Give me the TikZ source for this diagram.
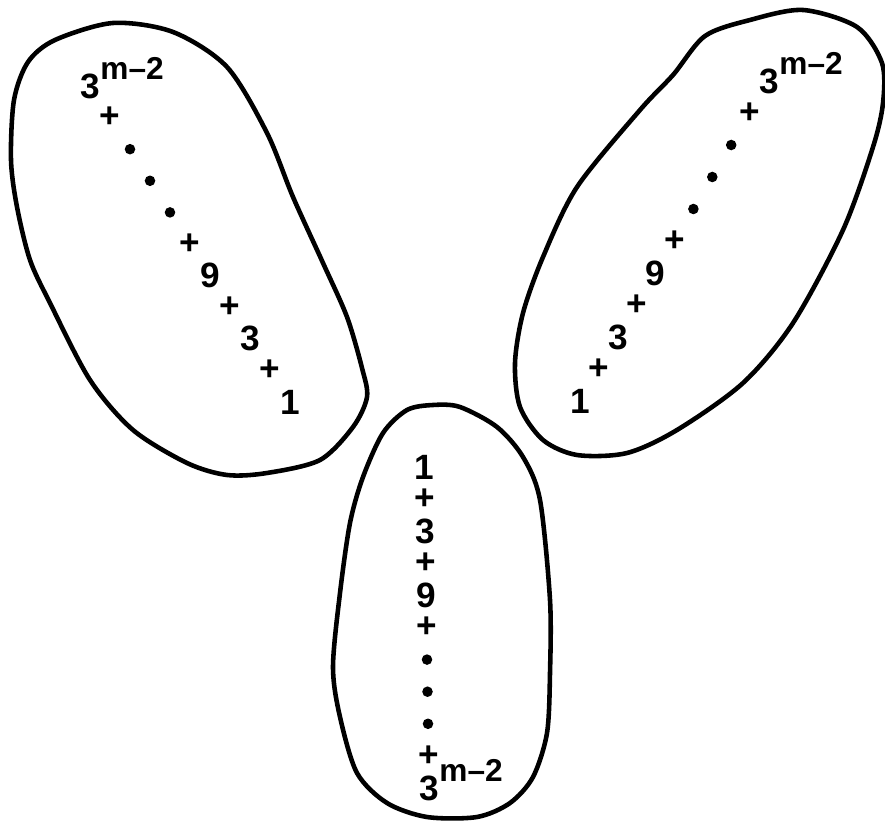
\documentclass[tikz,border=0pt]{standalone}
\usepackage{fontspec}
\setmainfont{Liberation Sans}
\usetikzlibrary{calc}

\begin{document}
\begin{tikzpicture}[
    x=0.01cm,y=-0.01cm,
    blob/.style={line width=1.3pt},
    term/.style={inner sep=0pt,font=\bfseries},
    dot/.style={circle,fill,inner sep=0pt,minimum size=3pt}
  ]
  \useasboundingbox (0,0) rectangle (885,822);
  % the three ovals
  \draw[blob] plot[smooth cycle] coordinates {(113,23) (173,32) (227,67) (267,133)
    (293,197) (323,263) (347,317) (362,368) (367,397) (353,427) (320,460) (267,473)
    (227,475) (187,463) (133,430) (90,380) (50,303) (30,260) (17,207) (11,160)
    (14,100) (28,62) (55,40)};
  \draw[blob] plot[smooth cycle] coordinates {(803,10) (857,27) (882,63) (883,103)
    (873,147) (843,230) (793,323) (743,383) (677,430) (627,453) (577,455) (543,440)
    (520,407) (515,363) (523,313) (543,257) (577,187) (640,110) (673,75) (705,36)
    (750,20)};
  \draw[blob] plot[smooth cycle] coordinates {(433,405) (460,407) (497,427) (523,457)
    (540,500) (550,600) (550,673) (547,733) (533,777) (510,803) (477,817) (427,817)
    (387,803) (357,773) (340,717) (333,667) (340,593) (350,523) (363,477) (383,433)
    (407,410)};
  % ends of each sum
  \coordinate (start-l) at (290,402);
  \coordinate (end-l) at (90,86);
  \coordinate (start-r) at (580,401);
  \coordinate (end-r) at (769,81);
  \coordinate (start-b) at (424,467);
  \coordinate (end-b) at (429,788);
  \foreach \b in {l,r,b}{
    \foreach \s/\t [count=\i from 0] in {term/1,term/+,term/3,term/+,term/9,term/+,dot/{},dot/{},dot/{},term/+}
      \node[\s] (\b\i) at ($(start-\b)!\i/10!(end-\b)$) {\t};
    \node[term,anchor=base west,xshift=-2.8pt,yshift=-3.6pt] (\b10) at (end-\b)
      {3\raisebox{0.55em}{\small m--2}};
  }
\end{tikzpicture}
\end{document}
